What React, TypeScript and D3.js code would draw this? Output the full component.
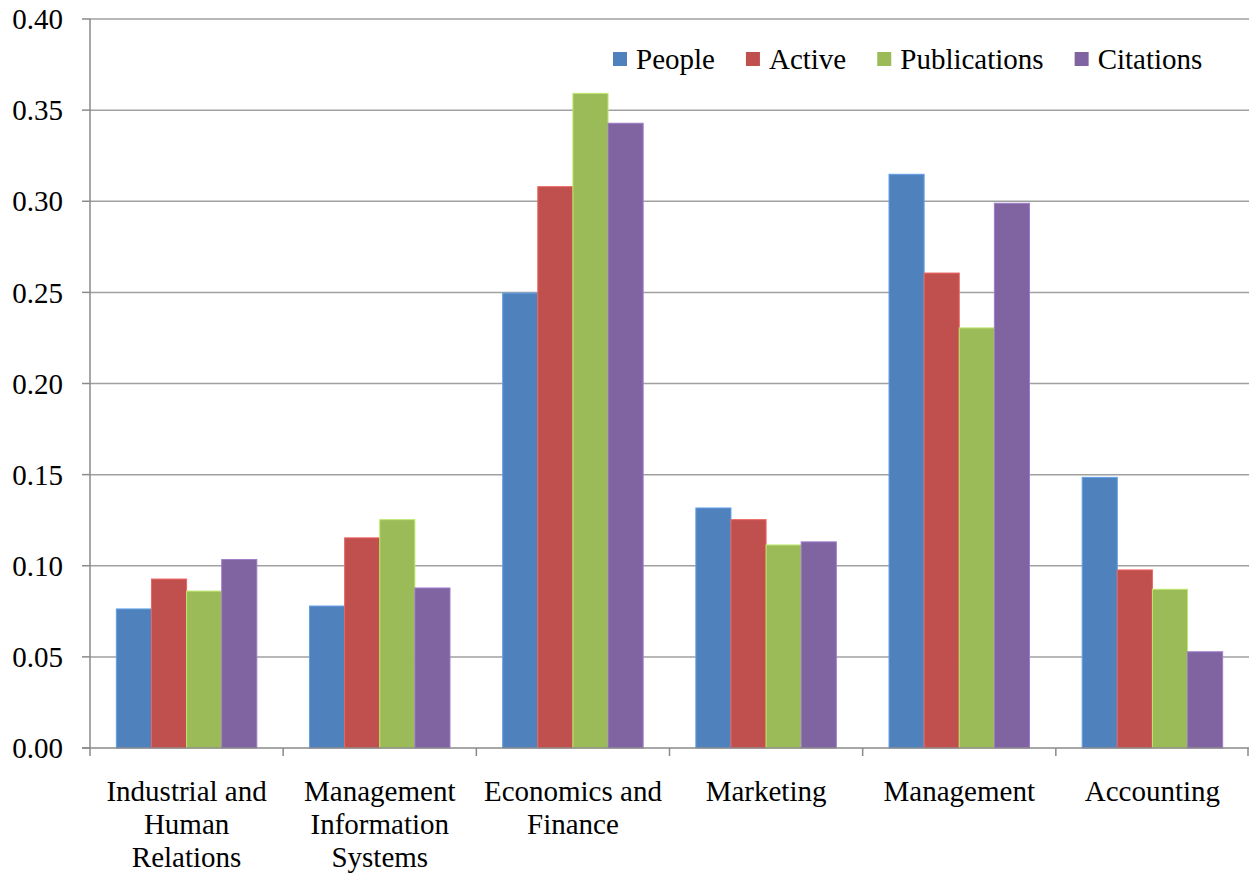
import React, { useEffect, useRef } from 'react';
import * as d3 from 'd3';

const categories = [
  'Industrial and\nHuman\nRelations',
  'Management\nInformation\nSystems',
  'Economics and\nFinance',
  'Marketing',
  'Management',
  'Accounting',
];

const seriesNames = ['People', 'Active', 'Publications', 'Citations'];
const seriesColors = ['#4F81BD', '#C0504D', '#9BBB59', '#8064A2'];

const people = [0.0763, 0.0779, 0.2496, 0.1317, 0.3148, 0.1485];
const active = [0.0927, 0.1153, 0.3080, 0.1253, 0.2606, 0.0977];
const publications = [0.0861, 0.1253, 0.3592, 0.1114, 0.2305, 0.0871];
const citations = [0.1034, 0.0878, 0.3428, 0.1131, 0.2989, 0.0528];

const yTicks = [0, 0.05, 0.1, 0.15, 0.2, 0.25, 0.3, 0.35, 0.4];

const App: React.FC = () => {
  const ref = useRef<SVGSVGElement>(null);

  useEffect(() => {
    if (!ref.current) return;
    const width = 1249;
    const height = 877;
    const margin = { left: 90, right: 0, top: 19, bottom: 129 };
    const series = [people, active, publications, citations];

    const svg = d3.select(ref.current)
      .attr('width', width)
      .attr('height', height);
    svg.selectAll('*').remove();

    const x0 = d3.scaleBand<number>()
      .domain(d3.range(categories.length))
      .range([margin.left, width - margin.right]);

    // Excel-style 150% gap width: 4 bars + 1.5 bar gap per group
    const x1 = d3.scaleBand<number>()
      .domain(d3.range(seriesNames.length))
      .range([0, x0.bandwidth()])
      .paddingOuter(0.75)
      .paddingInner(0);

    const y = d3.scaleLinear()
      .domain([0, 0.4])
      .range([height - margin.bottom, margin.top]);

    const font = 'Liberation Serif, Times New Roman, serif';
    const fontSize = 29;

    // gridlines
    svg.append('g')
      .selectAll('line')
      .data(yTicks.filter(t => t > 0))
      .enter().append('line')
      .attr('x1', margin.left)
      .attr('x2', width)
      .attr('y1', d => y(d))
      .attr('y2', d => y(d))
      .attr('stroke', '#a0a0a0')
      .attr('stroke-width', 1.5);

    // y tick marks
    svg.append('g')
      .selectAll('line')
      .data(yTicks)
      .enter().append('line')
      .attr('x1', margin.left - 8)
      .attr('x2', margin.left)
      .attr('y1', d => y(d))
      .attr('y2', d => y(d))
      .attr('stroke', '#8a8a8a')
      .attr('stroke-width', 1.5);

    // y labels
    svg.append('g')
      .selectAll('text')
      .data(yTicks)
      .enter().append('text')
      .attr('x', 63)
      .attr('y', d => y(d))
      .attr('dy', '0.35em')
      .attr('text-anchor', 'end')
      .style('font-family', font)
      .attr('font-size', fontSize)
      .attr('fill', '#000')
      .text(d => d.toFixed(2));

    // bars
    const groups = svg.append('g')
      .selectAll('g')
      .data(categories.map((_, i) => i))
      .enter().append('g')
      .attr('transform', i => `translate(${x0(i)},0)`);

    groups.selectAll('rect')
      .data(i => series.map((s, k) => ({ k, v: s[i] })))
      .enter().append('rect')
      .attr('x', d => x1(d.k)!)
      .attr('width', x1.bandwidth())
      .attr('y', d => y(d.v))
      .attr('height', d => y(0) - y(d.v))
      .attr('fill', d => seriesColors[d.k])
      .attr('stroke', d => d3.color(seriesColors[d.k])!.brighter(0.6).formatHex())
      .attr('stroke-width', 1);

    // axes lines
    svg.append('line')
      .attr('x1', margin.left).attr('x2', margin.left)
      .attr('y1', y(0.4)).attr('y2', y(0))
      .attr('stroke', '#8a8a8a').attr('stroke-width', 1.5);
    svg.append('line')
      .attr('x1', margin.left - 8).attr('x2', width)
      .attr('y1', y(0)).attr('y2', y(0))
      .attr('stroke', '#8a8a8a').attr('stroke-width', 1.5);

    // x tick marks at category boundaries
    svg.append('g')
      .selectAll('line')
      .data(d3.range(categories.length + 1))
      .enter().append('line')
      .attr('x1', i => margin.left + i * x0.step() - (i === categories.length ? 1 : 0))
      .attr('x2', i => margin.left + i * x0.step() - (i === categories.length ? 1 : 0))
      .attr('y1', y(0))
      .attr('y2', y(0) + 8)
      .attr('stroke', '#8a8a8a')
      .attr('stroke-width', 1.5);

    // category labels
    const catText = svg.append('g')
      .selectAll('text')
      .data(categories)
      .enter().append('text')
      .attr('x', (_, i) => x0(i)! + x0.bandwidth() / 2)
      .attr('y', 801)
      .attr('text-anchor', 'middle')
      .style('font-family', font)
      .attr('font-size', fontSize)
      .attr('fill', '#000');
    catText.selectAll('tspan')
      .data(d => d.split('\n'))
      .enter().append('tspan')
      .attr('x', function () { return (this.parentNode as SVGTextElement).getAttribute('x'); })
      .attr('dy', (_, j) => (j === 0 ? 0 : 33))
      .text(d => d);

    // legend, laid out left to right from measured text widths
    const legend = svg.append('g');
    let lx = 613;
    seriesNames.forEach((name, i) => {
      const item = legend.append('g').attr('transform', `translate(${lx},52)`);
      item.append('rect')
        .attr('width', 14)
        .attr('height', 14)
        .attr('fill', seriesColors[i]);
      const t = item.append('text')
        .attr('x', 23)
        .attr('y', 7)
        .attr('dy', '0.35em')
        .style('font-family', font)
        .attr('font-size', fontSize)
        .attr('fill', '#000')
        .text(name);
      const w = (t.node() as SVGTextElement).getComputedTextLength();
      lx += 23 + w + 31;
    });
  }, []);

  return <svg ref={ref} style={{ position: 'absolute', left: 0, top: 0 }} />;
};

export default App;
